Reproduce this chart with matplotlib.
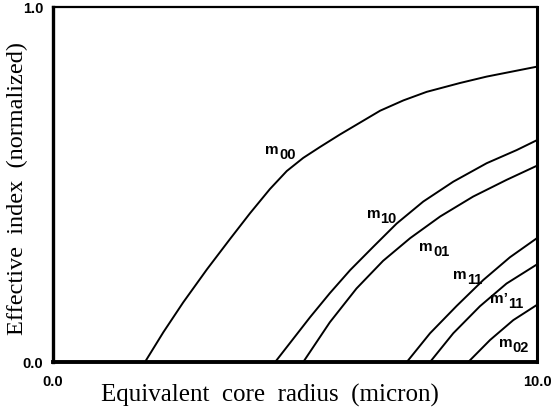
import matplotlib
matplotlib.use("Agg")
import matplotlib.pyplot as plt
from matplotlib.transforms import offset_copy

# Effective index vs. equivalent core radius for the guided modes
m00_x = [1.90, 2.28, 2.69, 3.18, 3.66, 4.07, 4.48, 4.83, 5.17, 5.52, 5.93, 6.76, 7.24, 7.72, 8.41, 8.96, 10.0]
m00_y = [0.0, 0.084, 0.168, 0.261, 0.347, 0.419, 0.487, 0.538, 0.575, 0.606, 0.641, 0.708, 0.737, 0.761, 0.786, 0.804, 0.832]

m10_x = [4.59, 5.31, 5.72, 6.14, 6.62, 7.10, 7.65, 8.27, 8.96, 9.58, 10.0]
m10_y = [0.0, 0.126, 0.194, 0.259, 0.325, 0.390, 0.452, 0.508, 0.560, 0.597, 0.625]

m01_x = [5.17, 5.72, 6.27, 6.82, 7.38, 8.00, 8.68, 9.37, 10.0]
m01_y = [0.0, 0.112, 0.207, 0.285, 0.349, 0.410, 0.466, 0.513, 0.553]

m11_x = [7.31, 7.79, 8.34, 8.89, 9.44, 10.0]
m11_y = [0.0, 0.081, 0.158, 0.231, 0.295, 0.349]

m11p_x = [7.79, 8.27, 8.82, 9.37, 10.0]
m11p_y = [0.0, 0.081, 0.157, 0.221, 0.275]

m02_x = [8.58, 9.03, 9.51, 10.0]
m02_y = [0.0, 0.062, 0.118, 0.161]

# Mode names: base letter and subscript, anchored where they meet
label_base = ["m", "m", "m", "m", "m\u2019", "m"]
label_sub = ["00", "10", "01", "11", "11", "02"]
label_x = [4.67, 6.76, 7.85, 8.55, 9.40, 9.50]
label_y = [0.586, 0.406, 0.313, 0.234, 0.166, 0.042]

x_ticks = [0.0, 10.0]
x_ticklabels = ["0.0", "10.0"]
y_ticks = [0.0, 1.0]
y_ticklabels = ["0.0", "1.0"]

fig = plt.figure(figsize=(5.54, 4.08), dpi=100)
ax = fig.add_axes([0.0957, 0.1127, 0.8736, 0.8701])

curves = [(m00_x, m00_y), (m10_x, m10_y), (m01_x, m01_y),
          (m11_x, m11_y), (m11p_x, m11p_y), (m02_x, m02_y)]
for xs, ys in curves:
    ax.plot(xs, ys, color="black", lw=1.4, solid_joinstyle="round",
            solid_capstyle="butt")

label_font = dict(family="Liberation Sans", fontweight="bold")
sub_trans = offset_copy(ax.transData, fig=fig, x=0.0, y=-3.6, units="points")
for base, sub, lx, ly in zip(label_base, label_sub, label_x, label_y):
    ax.text(lx, ly, base, ha="right", va="baseline", fontsize=11, **label_font)
    ax.text(lx, ly, sub, ha="left", va="baseline", fontsize=10.5,
            transform=sub_trans, **label_font)

ax.set_xlim(0, 10)
ax.set_ylim(0, 1)
ax.set_xticks(x_ticks)
ax.set_xticklabels(x_ticklabels, family="Liberation Sans", fontweight="bold", fontsize=10.5)
ax.set_yticks(y_ticks)
ax.set_yticklabels(y_ticklabels, family="Liberation Sans", fontweight="bold", fontsize=10.5)
ax.tick_params(axis="x", length=0, pad=9)
ax.tick_params(axis="y", length=0, pad=7)

for side, lw in [("left", 2.4), ("bottom", 2.8), ("right", 2.2), ("top", 1.6)]:
    ax.spines[side].set_linewidth(lw)

ax.set_xlabel("Equivalent  core  radius  (micron)", family="Liberation Serif",
              fontsize=18)
ax.xaxis.set_label_coords(0.448, -0.062)
ax.set_ylabel("Effective  index  (normalized)", family="Liberation Serif",
              fontsize=17.5)
ax.yaxis.set_label_coords(-0.052, 0.49)

fig.savefig("out.png", dpi=100)
